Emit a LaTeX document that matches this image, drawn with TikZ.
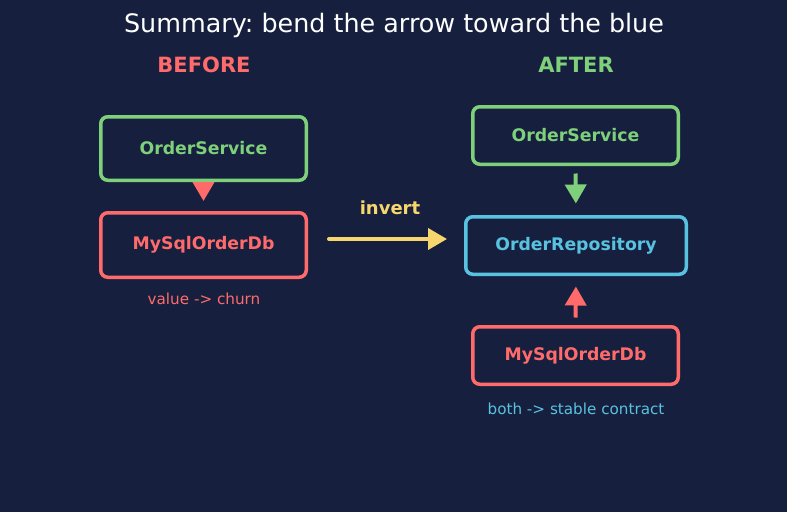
\documentclass[tikz,border=0pt]{standalone}
\usepackage{fontspec}
\setmainfont{DejaVu Sans}
\usetikzlibrary{arrows.meta}
\definecolor{bg}{RGB}{22,32,62}
\definecolor{cgreen}{RGB}{126,208,122}
\definecolor{cred}{RGB}{255,107,107}
\definecolor{cblue}{RGB}{88,194,224}
\definecolor{cyellow}{RGB}{248,214,110}
\frenchspacing
\begin{document}
\begin{tikzpicture}[x=1pt,y=-1pt,
 box/.style={draw=#1, text=#1, line width=3.5pt, rounded corners=7pt, fill=bg,
   font=\fontsize{17.3}{20}\selectfont\bfseries, inner sep=0pt},
 conn/.style={draw=#1, fill=#1, line width=4pt, -{Triangle[length=19pt,width=21pt]}},
 lbl/.style={text=#1, inner sep=0pt, font=\fontsize{15.2}{18}\selectfont},
 head/.style={text=#1, inner sep=0pt, font=\fontsize{21}{25}\selectfont\bfseries},
]
\fill[bg] (0,0) rectangle (787,512);
\useasboundingbox (0,0) rectangle (787,512);

\node[text=white, inner sep=0pt, font=\fontsize{25.4}{30}\selectfont] (title) at (394,25) {Summary: bend the arrow toward the blue};
\node[head=cred] (before) at (204,65) {BEFORE};
\node[head=cgreen] (after) at (576,65) {AFTER};

% before
\node[box=cgreen, minimum width=205.5pt, minimum height=63.5pt] (os1) at (203.5,148.5) {OrderService};
\node[box=cred, minimum width=205.5pt, minimum height=64.5pt] (db1) at (203.5,245) {MySqlOrderDb};
\node[lbl=cred] (churn) at (204,299) {value -> churn};
\draw[conn=cred, shorten <=3pt, shorten >=10pt] (os1.south) -- (db1.north);

% invert
\coordinate (ia) at (329,239);
\coordinate (ib) at (447,239);
\draw[conn=cyellow, line cap=round] (ia) -- (ib);
\node[text=cyellow, inner sep=0pt, font=\fontsize{18}{22}\selectfont\bfseries] (inv) at (390,208) {invert};

% after
\node[box=cgreen, minimum width=205.5pt, minimum height=57.5pt] (os2) at (575.5,135.5) {OrderService};
\node[box=cblue, minimum width=220.5pt, minimum height=57.5pt] (repo) at (576,245.5) {OrderRepository};
\node[box=cred, minimum width=205.5pt, minimum height=57.5pt] (db2) at (575.5,355.5) {MySqlOrderDb};
\node[lbl=cblue] (stable) at (576,409) {both -> stable contract};
\draw[conn=cgreen, shorten <=7.5pt, shorten >=11.5pt] (os2.south) -- (repo.north);
\draw[conn=cred, shorten <=7.5pt, shorten >=10.5pt] (db2.north) -- (repo.south);
\end{tikzpicture}
\end{document}
